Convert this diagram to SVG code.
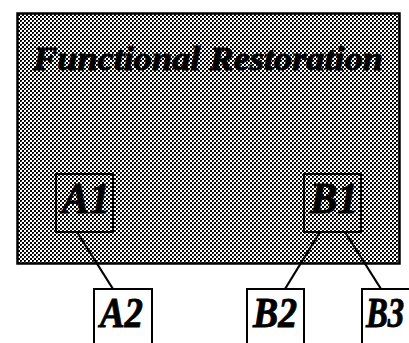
<svg xmlns="http://www.w3.org/2000/svg" width="409" height="343" viewBox="0 0 409 343">
<defs>
<pattern id="dither" x="0" y="0" width="4" height="4" patternUnits="userSpaceOnUse">
<rect width="4" height="4" fill="#ffffff"/>
<rect x="0" y="0" width="2" height="2" fill="#000000"/>
<rect x="2" y="2" width="2" height="2" fill="#000000"/>
<rect x="1" y="1" width="1" height="1" fill="#555555"/>
</pattern>
</defs>
<style>
.t{font-family:"Liberation Serif","Times New Roman",serif;font-weight:bold;font-style:italic;fill:#000;stroke:#000;stroke-width:0.9}
.box{fill:none;stroke:#000;stroke-width:2}
.wbox{fill:#fff;stroke:#000;stroke-width:2}
.c{stroke:#000;stroke-width:2.2;fill:none}
</style>
<g id="functional-restoration">
<rect x="17.5" y="13.5" width="382" height="250" fill="url(#dither)" stroke="#000" stroke-width="2.5"/>
<text class="t" x="33" y="70" font-size="34" textLength="350" lengthAdjust="spacingAndGlyphs">Functional Restoration</text>
</g>
<g id="connectors">
<line class="c" x1="77" y1="232" x2="113" y2="289"/>
<line class="c" x1="320" y1="232" x2="285" y2="289"/>
<line class="c" x1="345" y1="232" x2="381" y2="289"/>
</g>
<g id="A1">
<rect class="box" x="56" y="174" width="57" height="58"/>
<text class="t" x="62" y="213" font-size="45" textLength="48" lengthAdjust="spacingAndGlyphs">A1</text>
</g>
<g id="B1">
<rect class="box" x="304" y="174" width="57" height="58"/>
<text class="t" x="310" y="213" font-size="45" textLength="48" lengthAdjust="spacingAndGlyphs">B1</text>
</g>
<g id="A2">
<rect class="wbox" x="94" y="289" width="58" height="60"/>
<text class="t" x="100" y="327" font-size="43" textLength="43" lengthAdjust="spacingAndGlyphs">A2</text>
</g>
<g id="B2">
<rect class="wbox" x="247" y="289" width="57" height="60"/>
<text class="t" x="253" y="327" font-size="43" textLength="44" lengthAdjust="spacingAndGlyphs">B2</text>
</g>
<g id="B3">
<rect class="wbox" x="362" y="289" width="60" height="60"/>
<text class="t" transform="translate(366 327) scale(0.78 1)" x="0" y="0" font-size="42">B3</text>
</g>
</svg>
